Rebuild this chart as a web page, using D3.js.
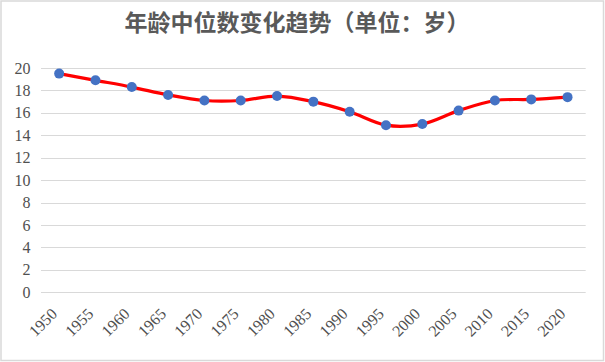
<!DOCTYPE html>
<html>
<head>
<meta charset="utf-8">
<script src="https://cdn.jsdelivr.net/npm/d3@7"></script>
<style>
  body { margin: 0; background: #fff; }
  svg { display: block; }
</style>
</head>
<body>
<script>
// 年龄中位数变化趋势 -- Excel style smoothed line

var years = ["1950", "1955", "1960", "1965", "1970", "1975", "1980", "1985",
             "1990", "1995", "2000", "2005", "2010", "2015", "2020"];
var medianAge = [19.5, 18.9, 18.3, 17.6, 17.1, 17.1, 17.5, 17.0,
                 16.1, 14.9, 15.0, 16.2, 17.1, 17.2, 17.4];
var yTicks = [0, 2, 4, 6, 8, 10, 12, 14, 16, 18, 20];
var title = "年龄中位数变化趋势（单位：岁）";

var width = 605,
    height = 362;

var svg = d3.select("body").append("svg")
    .attr("width", width)
    .attr("height", height);

// chart border
svg.append("rect")
    .attr("x", 1).attr("y", 1)
    .attr("width", 602.5).attr("height", 359.5)
    .attr("fill", "#fff")
    .attr("stroke", "#d9d9d9")
    .attr("stroke-width", 1.5);

var x = d3.scaleBand()
    .domain(years)
    .range([41, 585.7]);

var y = d3.scaleLinear()
    .domain([0, 20])
    .range([292.3, 68]);

// gridlines
svg.append("g")
    .selectAll("line")
    .data(yTicks)
    .join("line")
    .attr("x1", 41).attr("x2", 585.7)
    .attr("y1", d => Math.round(y(d)) + 0.5)
    .attr("y2", d => Math.round(y(d)) + 0.5)
    .attr("stroke", "#d9d9d9")
    .attr("stroke-width", 1);

// y labels
svg.append("g")
    .selectAll("text")
    .data(yTicks)
    .join("text")
    .attr("x", 30.5)
    .attr("y", d => y(d))
    .attr("dy", "0.35em")
    .attr("text-anchor", "end")
    .attr("font-family", "Liberation Serif, serif")
    .attr("font-size", 16)
    .attr("fill", "#505050")
    .text(d => d);

// x labels, rotated
svg.append("g")
    .selectAll("text")
    .data(years)
    .join("text")
    .attr("transform", d => "translate(" + (x(d) + x.bandwidth() / 2 - 5) + ",311) rotate(-45)")
    .attr("text-anchor", "end")
    .attr("dy", "0.35em")
    .attr("font-family", "Liberation Serif, serif")
    .attr("font-size", 16)
    .attr("fill", "#505050")
    .text(d => d);

var cx = d => x(d) + x.bandwidth() / 2;

var line = d3.line()
    .x((d, i) => cx(years[i]))
    .y(d => y(d))
    .curve(d3.curveCardinal.tension(0));

svg.append("path")
    .datum(medianAge)
    .attr("d", line)
    .attr("fill", "none")
    .attr("stroke", "#ff0000")
    .attr("stroke-width", 3.2)
    .attr("stroke-linecap", "round");

svg.append("g")
    .selectAll("circle")
    .data(medianAge)
    .join("circle")
    .attr("cx", (d, i) => cx(years[i]))
    .attr("cy", d => y(d))
    .attr("r", 5)
    .attr("fill", "#4472c4");

svg.append("text")
    .attr("x", 297)
    .attr("y", 30.5)
    .attr("text-anchor", "middle")
    .attr("font-family", "Noto Sans CJK SC, sans-serif")
    .attr("font-weight", "bold")
    .attr("font-size", 23)
    .attr("fill", "#595959")
    .text(title);
</script>
</body>
</html>
